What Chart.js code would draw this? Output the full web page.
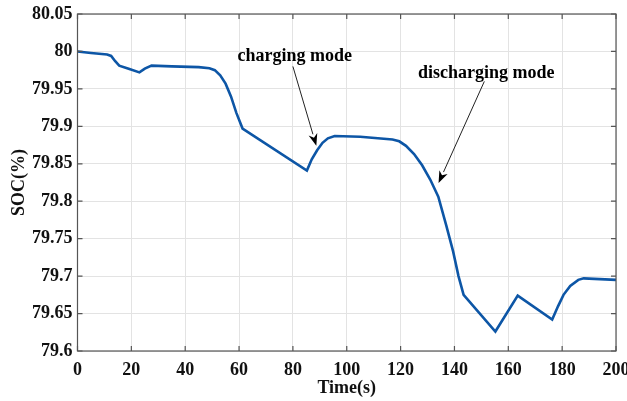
<!DOCTYPE html>
<html>
<head>
<meta charset="utf-8">
<script src="https://cdn.jsdelivr.net/npm/chart.js@4"></script>
<style>
  body { margin: 0; background: #fff; }
  #wrap { width: 627px; height: 401px; }
</style>
</head>
<body>
<div id="wrap"><canvas id="mycanvas" width="627" height="401"></canvas></div>
<script>
// time (s) and state of charge (%)
var time = [0, 5, 11, 12.5, 14, 15.5, 19, 23, 25, 27.5, 35, 45, 49, 51, 53, 55, 57, 59, 61.3,
	85.2, 87, 89, 91, 93, 95.5, 105, 117, 119.5, 122, 125, 128, 131, 134, 137, 139.5, 141.5, 143.4,
	155.2, 163.5, 176.3, 178.5, 180.5, 183, 186, 188, 200];
var soc = [80.000, 79.998, 79.996, 79.994, 79.987, 79.981, 79.977, 79.972, 79.977, 79.981, 79.980, 79.979, 79.9775, 79.975, 79.968, 79.957, 79.940, 79.918, 79.897,
	79.841, 79.856, 79.868, 79.878, 79.884, 79.887, 79.886, 79.8825, 79.880, 79.874, 79.863, 79.848, 79.829, 79.806, 79.767, 79.733, 79.700, 79.675,
	79.626, 79.674, 79.642, 79.660, 79.675, 79.687, 79.695, 79.697, 79.695];

var xTicks = [0, 20, 40, 60, 80, 100, 120, 140, 160, 180, 200];
var yTicks = [79.6, 79.65, 79.7, 79.75, 79.8, 79.85, 79.9, 79.95, 80, 80.05];

// annotation: text, text anchor, arrow tail, arrow tip (data units)
var notes = [
	{ text: 'charging mode', tx: 80.7, ty: 79.994, ax: 80, ay: 79.980, bx: 88.7, by: 79.874 },
	{ text: 'discharging mode', tx: 151.8, ty: 79.971, ax: 151.1, ay: 79.960, bx: 134.1, by: 79.8243 }
];

var points = [];
for (var i in time) {
	points.push({ x: time[i], y: soc[i] });
}

var boxPlugin = {
	id: 'box',
	afterDraw: function(chart) {
		var c = chart.ctx, a = chart.chartArea;
		var xs = chart.scales.x, ys = chart.scales.y;
		c.save();
		c.strokeStyle = '#555';
		c.lineWidth = 1.2;
		c.strokeRect(a.left, a.top, a.right - a.left, a.bottom - a.top);
		// inward ticks on all four sides
		c.beginPath();
		xTicks.forEach(function(v) {
			var px = xs.getPixelForValue(v);
			c.moveTo(px, a.bottom); c.lineTo(px, a.bottom - 5);
			c.moveTo(px, a.top); c.lineTo(px, a.top + 5);
		});
		yTicks.forEach(function(v) {
			var py = ys.getPixelForValue(v);
			c.moveTo(a.left, py); c.lineTo(a.left + 5, py);
			c.moveTo(a.right, py); c.lineTo(a.right - 5, py);
		});
		c.stroke();

		// annotations
		c.fillStyle = '#000';
		c.strokeStyle = '#222';
		c.font = 'bold 18px "Liberation Serif", "Times New Roman", serif';
		c.textAlign = 'center';
		c.textBaseline = 'middle';
		notes.forEach(function(n) {
			c.fillText(n.text, xs.getPixelForValue(n.tx), ys.getPixelForValue(n.ty));
			var x1 = xs.getPixelForValue(n.ax), y1 = ys.getPixelForValue(n.ay);
			var x2 = xs.getPixelForValue(n.bx), y2 = ys.getPixelForValue(n.by);
			var ang = Math.atan2(y2 - y1, x2 - x1);
			var len = 12, w = 4.5;
			c.lineWidth = 1;
			c.beginPath();
			c.moveTo(x1, y1);
			c.lineTo(x2 - Math.cos(ang) * len, y2 - Math.sin(ang) * len);
			c.stroke();
			c.beginPath();
			c.moveTo(x2, y2);
			c.lineTo(x2 - Math.cos(ang) * len - Math.sin(ang) * w, y2 - Math.sin(ang) * len + Math.cos(ang) * w);
			c.lineTo(x2 - Math.cos(ang) * len * 0.7, y2 - Math.sin(ang) * len * 0.7);
			c.lineTo(x2 - Math.cos(ang) * len + Math.sin(ang) * w, y2 - Math.sin(ang) * len - Math.cos(ang) * w);
			c.closePath();
			c.fill();
		});
		c.restore();
	}
};

var tickFont = { family: '"Liberation Serif", serif', size: 18, weight: 'bold' };

var ctx = document.getElementById('mycanvas');
var lineChart = new Chart(ctx, {
	type: 'scatter',
	data: {
		datasets: [{
			label: 'SOC',
			data: points,
			showLine: true,
			borderColor: '#0d56a6',
			borderWidth: 2.6,
			pointRadius: 0,
			tension: 0
		}]
	},
	options: {
		responsive: false,
		animation: false,
		layout: { padding: { top: 14, right: 11, left: 0, bottom: 0 } },
		plugins: {
			legend: { display: false },
			tooltip: { enabled: false }
		},
		scales: {
			x: {
				type: 'linear',
				min: 0,
				max: 200,
				afterBuildTicks: function(s) { s.ticks = xTicks.map(function(v) { return { value: v }; }); },
				afterFit: function(s) { s.height = 50; s.paddingLeft = 0; s.paddingRight = 0; },
				ticks: {
					color: '#111',
					padding: 9,
					maxRotation: 0,
					font: tickFont
				},
				grid: { color: '#e3e3e3', lineWidth: 1, drawTicks: false },
				border: { display: false },
				title: {
					display: true,
					text: 'Time(s)',
					color: '#111',
					padding: { top: 0, bottom: 2 },
					font: tickFont
				}
			},
			y: {
				min: 79.6,
				max: 80.05,
				afterBuildTicks: function(s) { s.ticks = yTicks.map(function(v) { return { value: v }; }); },
				afterFit: function(s) { s.width = 77.5; s.paddingTop = 0; s.paddingBottom = 0; },
				ticks: {
					color: '#111',
					padding: 5,
					callback: function(v) { return String(Number(v.toFixed(2))); },
					font: tickFont
				},
				grid: { color: '#e3e3e3', lineWidth: 1, drawTicks: false },
				border: { display: false },
				title: {
					display: true,
					text: 'SOC(%)',
					color: '#111',
					padding: { top: 9, bottom: 0 },
					font: tickFont
				}
			}
		}
	},
	plugins: [boxPlugin]
});
</script>
</body>
</html>
